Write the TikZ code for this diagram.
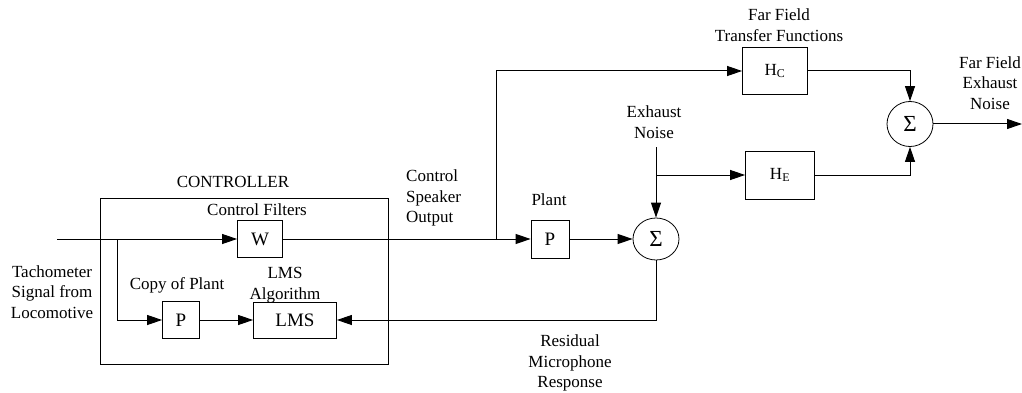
\documentclass[tikz,border=0pt]{standalone}
\usepackage{fontspec}
\setmainfont{Liberation Serif}
\usetikzlibrary{arrows.meta,shapes.geometric}
\begin{document}
\begin{tikzpicture}[x=1pt,y=-1pt,
  font=\fontsize{17}{20.5}\selectfont,
  blk/.style={draw,line width=0.8pt,inner sep=0pt,font=\fontsize{19}{22}\selectfont},
  sumnode/.style={draw,ellipse,line width=0.8pt,minimum width=46pt,minimum height=42pt,inner sep=0pt,font=\fontsize{23}{24}\selectfont},
  lbl/.style={align=center,inner sep=0pt},
  sig/.style={line width=1pt,-{Triangle[length=15pt,width=10pt]}},
  wire/.style={line width=1pt}]
\useasboundingbox (0,0) rectangle (1022,393);
% controller
\node[blk,minimum width=288pt,minimum height=166pt] (ctrl) at (244,281) {};
\node[lbl] (ctrllbl) at (233,182) {CONTROLLER};
\node[blk,minimum width=45pt,minimum height=37pt] (W) at (260,239) {W};
\node[lbl] (cflbl) at (257,210) {Control Filters};
\node[blk,minimum width=37pt,minimum height=37pt] (Pc) at (181,320) {P};
\node[lbl] (cplbl) at (177,285) {Copy of Plant};
\node[blk,minimum width=83pt,minimum height=36pt] (LMS) at (295,320) {LMS};
\node[lbl] (lmslbl) at (285,285) {LMS\\Algorithm};
\node[lbl] (tach) at (52,292) {Tachometer\\Signal from\\Locomotive};
% plant
\node[blk,minimum width=38pt,minimum height=38pt] (P) at (550,239) {P};
\node[lbl] (plbl) at (549,200) {Plant};
\node[lbl,anchor=west,align=left] (cso) at (406,198) {Control\\Speaker\\Output};
\node[sumnode] (s1) at (656,239) {Σ};
\node[lbl] (exh) at (654,122) {Exhaust\\Noise};
\node[lbl] (res) at (570,363) {Residual\\Microphone\\Response};
% far field
\node[blk,minimum width=65pt,minimum height=47pt,font=\fontsize{17}{20}\selectfont] (HC) at (775,71) {H\textsubscript{C}};
\node[blk,minimum width=69pt,minimum height=48pt,font=\fontsize{17}{20}\selectfont] (HE) at (780,175) {H\textsubscript{E}};
\node[lbl] (fft) at (779,25) {Far Field\\Transfer Functions};
\node[sumnode,minimum height=45pt] (s2) at (910,124) {Σ};
\node[lbl] (ffe) at (990,83) {Far Field\\Exhaust\\Noise};
% coordinates
\coordinate (in) at (57,239);
\coordinate (b1) at (117,239);
\coordinate (b2) at (496,239);
\coordinate (en) at (656,147);
\coordinate (eb) at (656,175);
\coordinate (out) at (1022,124);
% connectors
\draw[sig] (in) -- (W.west);
\draw[sig] (b1) |- (Pc.west);
\draw[sig] (Pc.east) -- (LMS.west);
\draw[sig] (W.east) -- (P.west);
\draw[sig] (b2) |- (HC.west);
\draw[sig] (P.east) -- (s1.west);
\draw[sig] (en) -- (s1.north);
\draw[sig] (eb) -- (HE.west);
\draw[sig] (s1.south) |- (LMS.east);
\draw[sig] (HC.east) -| (s2.north);
\draw[sig] (HE.east) -| (s2.south);
\draw[sig] (s2.east) -- (out);
\end{tikzpicture}
\end{document}
